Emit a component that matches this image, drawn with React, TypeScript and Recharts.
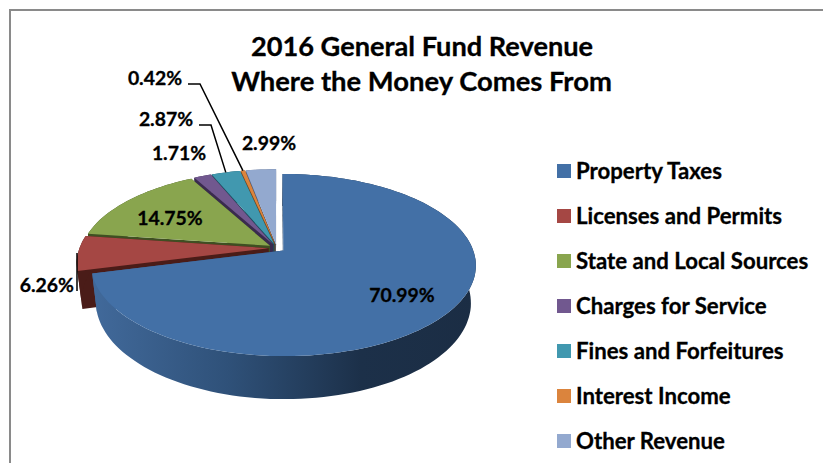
import React from 'react';
import { PieChart, Pie, Legend } from 'recharts';

// clockwise order from 12 o'clock, same as the legend
const categories = [
  'Property Taxes',
  'Licenses and Permits',
  'State and Local Sources',
  'Charges for Service',
  'Fines and Forfeitures',
  'Interest Income',
  'Other Revenue',
];
const shares = [70.99, 6.26, 14.75, 1.71, 2.87, 0.42, 2.99];
const topColors = ['#4370a6', '#a54744', '#89a54e', '#71588f', '#4198af', '#db843d', '#93a9cf'];
const wallColors = ['url(#blueWall)', '#4a1c18', '#3f4f22', '#3a2b4e', '#1d5161', '#7a4518', '#4f5f80'];
const titleLines = ['2016 General Fund Revenue', 'Where the Money Comes From'];

const FONT = 'Lato, Carlito, sans-serif';

// pseudo-3D projection of the unit circle
const CENTER_X = 276.8;
const CENTER_Y = 248;
const RX = 189;
const RY = 88;
const PERSPECTIVE = 0.16;
const EXPLODE = 0.044;
const DEPTH = 36.5;
const BOTTOM_SCALE_X = 0.975;
const BOTTOM_SCALE_Y = 1.06;

const rad = (d: number) => (d * Math.PI) / 180;

const project = (theta: number, r: number, mid: number, bottom = false) => {
  const u = r * Math.sin(rad(theta)) + EXPLODE * Math.sin(rad(mid));
  const v = r * Math.cos(rad(theta)) + EXPLODE * Math.cos(rad(mid));
  const d = 1 + PERSPECTIVE * v;
  return {
    x: CENTER_X + ((bottom ? BOTTOM_SCALE_X : 1) * RX * u) / d,
    y: CENTER_Y - ((bottom ? BOTTOM_SCALE_Y : 1) * RY * v) / d + (bottom ? DEPTH : 0),
  };
};

const arcPoints = (from: number, to: number, mid: number, bottom = false) => {
  const steps = Math.max(2, Math.ceil(Math.abs(to - from) / 2));
  const pts = [];
  for (let i = 0; i <= steps; i++) {
    pts.push(project(from + ((to - from) * i) / steps, 1, mid, bottom));
  }
  return pts;
};

const toPath = (pts: { x: number; y: number }[]) =>
  'M' + pts.map((p) => `${p.x.toFixed(1)},${p.y.toFixed(1)}`).join('L') + 'Z';

// recharts hands out angles counter-clockwise from 3 o'clock
const toTheta = (angle: number) => 450 - angle;

const Slice3D = (props: any) => {
  const { startAngle, endAngle, payload } = props;
  const i = payload.index;
  const a = toTheta(endAngle);
  const b = toTheta(startAngle);
  const mid = (a + b) / 2;
  const apex = project(0, 0, mid);
  const apexLow = project(0, 0, mid, true);
  const top = arcPoints(a, b, mid);
  const low = arcPoints(a, b, mid, true);
  const wall = wallColors[i];
  return (
    <g>
      <path d={toPath([apex, top[0], low[0], apexLow])} fill={wall} />
      <path d={toPath([apex, top[top.length - 1], low[low.length - 1], apexLow])} fill={wall} />
      <path d={toPath([...top, ...low.slice().reverse()])} fill={wall} />
      <path d={toPath([apex, ...top])} fill={topColors[i]} />
    </g>
  );
};

// text spot for each percentage and the bend points of its leader line
const labelSpots: Record<string, { x: number; y: number; anchor: string; leader?: number[][]; plumb?: boolean }> = {
  'Property Taxes': { x: 402, y: 302, anchor: 'middle' },
  'Licenses and Permits': { x: 74, y: 292, anchor: 'end', leader: [[77, 291]], plumb: true },
  'State and Local Sources': { x: 170, y: 225, anchor: 'middle' },
  'Charges for Service': { x: 179, y: 160, anchor: 'middle' },
  'Fines and Forfeitures': { x: 166, y: 126, anchor: 'middle', leader: [[199, 125], [211, 125]] },
  'Interest Income': { x: 155, y: 85, anchor: 'middle', leader: [[188, 84], [200, 84]] },
  'Other Revenue': { x: 269, y: 150, anchor: 'middle' },
};

const renderLabel = (props: any) => {
  const { payload, startAngle, endAngle } = props;
  const spot = labelSpots[payload.name];
  const mid = toTheta((startAngle + endAngle) / 2);
  let line = null;
  if (spot.leader) {
    const end = project(mid, 1, mid);
    const endX = spot.plumb ? spot.leader[0][0] : end.x;
    const pts = [...spot.leader, [endX, end.y]];
    line = (
      <polyline
        points={pts.map((p) => p.join(',')).join(' ')}
        fill="none"
        stroke="#000"
        strokeWidth={1.5}
      />
    );
  }
  return (
    <g>
      {line}
      <text
        x={spot.x}
        y={spot.y}
        textAnchor={spot.anchor as any}
        fontFamily={FONT}
        fontWeight={700}
        fontSize={19.4}
        fill="#000"
        stroke="#000"
        strokeWidth={0.3}
      >
        {payload.value.toFixed(2)}%
      </text>
    </g>
  );
};

const LegendBox = () => (
  <div style={{ fontFamily: FONT, fontWeight: 700, fontSize: 22.2, color: '#000', WebkitTextStroke: '0.3px #000' }}>
    {categories.map((name, i) => (
      <div key={name} style={{ display: 'flex', alignItems: 'center', height: 45 }}>
        <span style={{ width: 14, height: 14, background: topColors[i], marginRight: 5 }} />
        <span style={{ whiteSpace: 'nowrap' }}>{name}</span>
      </div>
    ))}
  </div>
);

// painted back to front, property taxes last so it covers the neighbours' walls
const pieData = categories
  .map((name, index) => ({ name, value: shares[index], index }))
  .reverse();

export default function App() {
  return (
    <div style={{ position: 'absolute', left: 0, top: 0, width: 823, height: 463, background: '#fff', overflow: 'hidden' }}>
      <PieChart width={823} height={463} margin={{ top: 0, right: 0, bottom: 0, left: 0 }}>
        <defs>
          <linearGradient id="blueWall" gradientUnits="userSpaceOnUse" x1="95" y1="0" x2="475" y2="0">
            <stop offset="0" stopColor="#41699a" />
            <stop offset="0.35" stopColor="#2f5179" />
            <stop offset="0.7" stopColor="#1c3049" />
            <stop offset="1" stopColor="#1b2d44" />
          </linearGradient>
        </defs>
        <path d="M10,463V10H823" fill="none" stroke="#8a8a8a" strokeWidth={2} />
        <text x={422} y={56} textAnchor="middle" fontFamily={FONT} fontWeight={700} fontSize={27.2} fill="#000" stroke="#000" strokeWidth={0.3}>
          {titleLines[0]}
        </text>
        <text x={421.5} y={91} textAnchor="middle" fontFamily={FONT} fontWeight={700} fontSize={27.4} fill="#000" stroke="#000" strokeWidth={0.3}>
          {titleLines[1]}
        </text>
        <Pie
          data={pieData}
          dataKey="value"
          nameKey="name"
          cx={276}
          cy={248}
          outerRadius={190}
          startAngle={90}
          endAngle={450}
          stroke="none"
          isAnimationActive={false}
          shape={Slice3D}
          label={renderLabel}
          labelLine={false}
        />
        <Legend
          layout="vertical"
          content={<LegendBox />}
          wrapperStyle={{ position: 'absolute', left: 557, top: 148, width: 266 }}
        />
      </PieChart>
    </div>
  );
}
